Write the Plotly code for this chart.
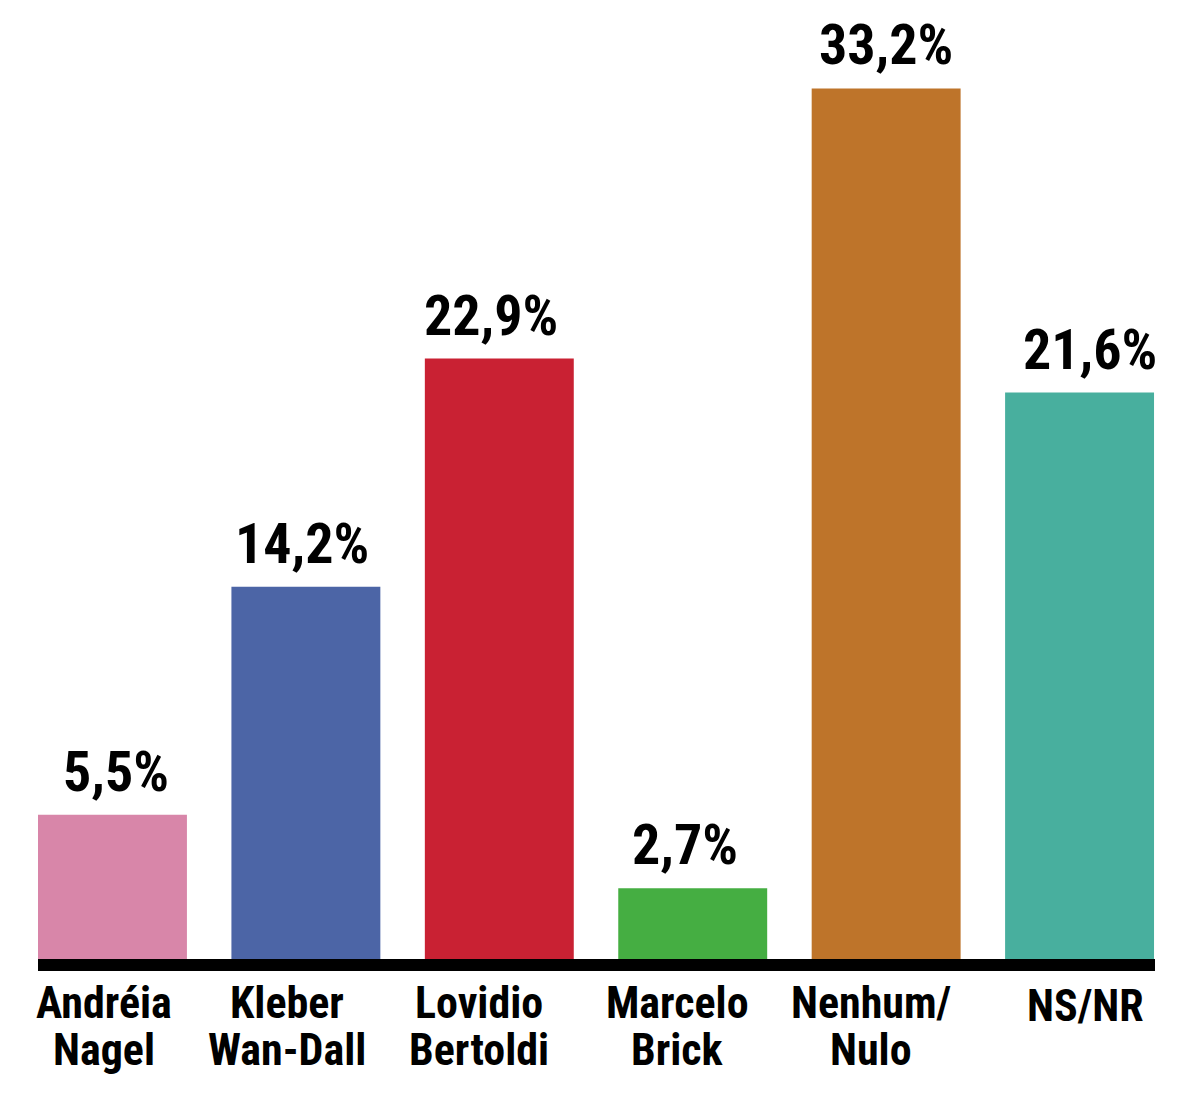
import plotly.graph_objects as go

# data
candidates = ['Andréia<br>Nagel', 'Kleber<br>Wan-Dall', 'Lovidio<br>Bertoldi',
              'Marcelo<br>Brick', 'Nenhum/<br>Nulo', 'NS/NR']
votes = [5.5, 14.2, 22.9, 2.7, 33.2, 21.6]
labels = ['5,5%', '14,2%', '22,9%', '2,7%', '33,2%', '21,6%']
colors = ['#D886A9', '#4C65A6', '#C92133', '#45AE42', '#BE742A', '#48AF9E']

# small horizontal nudges of the texts, as in the original layout
value_xshift = [4, -4, -8, -8, 0, 10]
name_xshift = [-8, -19, -20, -15, -15, 6]

font_name = 'Roboto Condensed, Liberation Sans Narrow, Arial Narrow, DejaVu Sans Condensed, sans-serif'
pos = list(range(len(candidates)))

fig = go.Figure()
fig.add_trace(go.Bar(
    x=pos,
    y=votes,
    width=0.77,
    marker=dict(color=colors, line=dict(width=0)),
    hoverinfo='skip'
))

# value labels above the bars
for i, v in enumerate(votes):
    fig.add_annotation(x=pos[i], y=v, text='<b>' + labels[i] + '</b>',
                       showarrow=False, yanchor='bottom', yshift=8,
                       xshift=value_xshift[i],
                       font=dict(size=56, color='black', family=font_name))

# category labels, one annotation per line to keep the lines tight
for i, name in enumerate(candidates):
    lines = name.split('<br>')
    for j, part in enumerate(lines):
        shift = -44 - 47 * j
        if len(lines) == 1:
            shift = -47
        fig.add_annotation(x=pos[i], y=0, text='<b>' + part + '</b>',
                           showarrow=False, yanchor='middle', yshift=shift,
                           xshift=name_xshift[i],
                           font=dict(size=44, color='black', family=font_name))

fig.update_xaxes(range=[-0.385, 5.39], showticklabels=False, showgrid=False,
                 zeroline=False, showline=True, linecolor='black', linewidth=12,
                 ticks='')
fig.update_yaxes(range=[0, 36], visible=False, showgrid=False, zeroline=False)

# the page body adds 8px, so the margins are shifted to compensate
fig.update_layout(
    width=1200,
    height=1105,
    margin=dict(l=30, r=53, t=7, b=154),
    plot_bgcolor='white',
    paper_bgcolor='white',
    showlegend=False,
    font=dict(family=font_name)
)

fig.write_html("out.html")
